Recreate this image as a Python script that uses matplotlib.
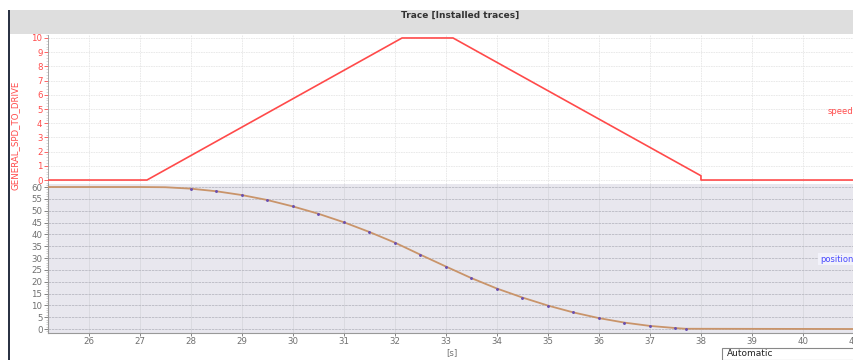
import matplotlib
matplotlib.use("Agg")
import matplotlib.pyplot as plt
from matplotlib.patches import Rectangle
from matplotlib.ticker import MultipleLocator

# speed trace (GENERAL_SPD_TO_DRIVE)
speed_t = [25.2, 27.14, 32.14, 33.14, 38.0, 38.0, 41.0]
speed_v = [0, 0, 10, 10, 0.3, 0, 0]

# position trace
pos_t = [25.2, 27.0, 27.5, 28.0, 28.5, 29.0, 29.5, 30.0, 30.5, 31.0, 31.5, 32.0,
         32.5, 33.0, 33.5, 34.0, 34.5, 35.0, 35.5, 36.0, 36.5, 37.0, 37.5, 37.7, 41.0]
pos_v = [60, 60, 59.9, 59.3, 58.2, 56.6, 54.5, 51.8, 48.7, 45.1, 41.0, 36.5,
         31.4, 26.4, 21.5, 17.1, 13.3, 9.9, 7.0, 4.6, 2.7, 1.3, 0.4, 0.1, 0]

x_ticks = list(range(26, 42))

W, H = 854, 360
fig = plt.figure(figsize=(W / 100, H / 100), dpi=100)
fig.patch.set_facecolor("white")

def fx(px):
    return px / W

def fy(py):
    return 1 - py / H

# header band and left frame line
fig.patches.append(Rectangle((fx(8), fy(34)), fx(846), 24 / H, transform=fig.transFigure,
                             facecolor="#dedede", edgecolor="none", zorder=0))
fig.patches.append(Rectangle((fx(8), 0), 2 / W, fy(10), transform=fig.transFigure,
                             facecolor="#2b3344", edgecolor="none", zorder=5))
fig.text(fx(460), fy(15), "Trace [Installed traces]", ha="center", va="center",
         fontsize=6.5, fontweight="bold", color="#333333")

left, right = fx(48), 1.0
ax1 = fig.add_axes([left, fy(184), right - left, (184 - 35) / H])
ax2 = fig.add_axes([left, fy(333), right - left, (333 - 184) / H])

red = "#ff4a4a"
grey_txt = "#707070"

# upper: speed
ax1.set_facecolor("white")
ax1.plot(speed_t, speed_v, color=red, lw=1.2, zorder=3)
ax1.set_xlim(25.2, 41.0)
ax1.set_ylim(-0.28, 10.21)
ax1.set_yticks(range(0, 11))
ax1.yaxis.set_minor_locator(MultipleLocator(0.2))
ax1.set_xticks(x_ticks)
ax1.tick_params(axis="x", bottom=False, labelbottom=False)
ax1.tick_params(axis="y", which="major", colors=red, labelsize=6.2, length=3, width=0.6, pad=1)
ax1.tick_params(axis="y", which="minor", colors="#bbbbbb", length=1.5, width=0.4)
ax1.grid(True, which="major", color="#e6e6e6", lw=0.6, ls=(0, (2, 1)))
for s in ["top", "right", "bottom"]:
    ax1.spines[s].set_visible(False)
ax1.spines["left"].set_color("#999999")
ax1.spines["left"].set_linewidth(0.6)
fig.text(fx(15), fy(135), "GENERAL_SPD_TO_DRIVE", rotation=90, ha="center", va="center",
         fontsize=6.2, color=red)
ax1.text(0.999, (108 - 35) / 149, "speed", transform=ax1.transAxes, ha="right", va="center",
         fontsize=6, color=red, clip_on=False)

# lower: position
ax2.set_facecolor("#e8e7ee")
ax2.plot(pos_t, pos_v, color="#c9946a", lw=1.3, zorder=3)
ax2.plot(pos_t[3:-1], pos_v[3:-1], ls="none", marker="o", ms=1.1, color="#6a4fb0", zorder=4)
ax2.set_xlim(25.2, 41.0)
ax2.set_ylim(-1.69, 61.27)
ax2.set_yticks(range(0, 61, 5))
ax2.yaxis.set_minor_locator(MultipleLocator(1))
ax2.set_xticks(x_ticks)
ax2.tick_params(axis="both", which="major", colors=grey_txt, labelsize=6.2, length=3, width=0.6, pad=1)
ax2.tick_params(axis="y", which="minor", colors="#aaaaaa", length=1.5, width=0.4)
ax2.tick_params(axis="x", length=2, pad=1)
ax2.grid(True, axis="y", which="major", color="#b9b9c2", lw=0.6, ls=(0, (3, 1)))
ax2.grid(True, axis="x", which="major", color="#d8d8de", lw=0.6)
for s in ["top", "right"]:
    ax2.spines[s].set_visible(False)
for s in ["left", "bottom"]:
    ax2.spines[s].set_color("#999999")
    ax2.spines[s].set_linewidth(0.8)
ax2.text(0.999, (258 - 184) / 149, "position", transform=ax2.transAxes, ha="right", va="center",
         fontsize=6, color="#4a4aff", clip_on=False,
         bbox=dict(facecolor="#f2f2fa", edgecolor="none", pad=1))

fig.text(fx(452), fy(353), "[s]", ha="center", va="center", fontsize=6.2, color=grey_txt)
fig.patches.append(Rectangle((fx(722), 0), fx(140), fy(348), transform=fig.transFigure,
                             facecolor="white", edgecolor="#888888", lw=0.8, zorder=5))
fig.text(fx(727), fy(354), "Automatic", ha="left", va="center", fontsize=6.5,
         color="#222222", zorder=6)

fig.savefig("out.png", dpi=100)
